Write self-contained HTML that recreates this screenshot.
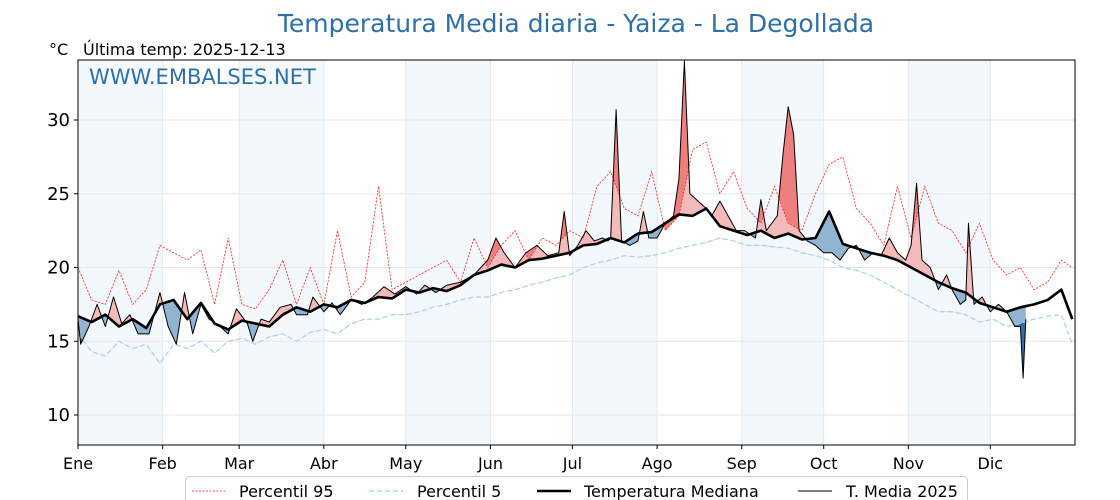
<!DOCTYPE html>
<html><head><meta charset="utf-8"><style>
body{margin:0;background:#fff;}
svg{display:block;font-family:"DejaVu Sans","Liberation Sans",sans-serif;}
</style></head><body>
<svg id="chart" width="1120" height="500" viewBox="0 0 1120 500" xmlns="http://www.w3.org/2000/svg">
<text x="576" y="32" text-anchor="middle" font-size="25" fill="#2f6fa6">Temperatura Media diaria - Yaiza - La Degollada</text>
<text x="49" y="55" font-size="16" fill="#000">°C</text>
<text x="83" y="55" font-size="16" fill="#000">Última temp: 2025-12-13</text>
<g id="plot"></g>
</svg>
<script>
const monthLabels=["Ene","Feb","Mar","Abr","May","Jun","Jul","Ago","Sep","Oct","Nov","Dic"];
const monthStarts=[0,31,59,90,120,151,181,212,243,273,304,334];
const yTicks=[10,15,20,25,30];
const climDays=[0,5,10,15,20,25,30,35,40,45,50,55,60,65,70,75,80,85,90,95,100,105,110,115,120,125,130,135,140,145,150,155,160,165,170,175,180,185,190,195,200,205,210,215,220,225,230,235,240,245,250,255,260,265,270,275,280,285,290,295,300,305,310,315,320,325,330,335,340,345,350,355,360,364];
const median=[16.7,16.3,16.8,16.0,16.5,15.9,17.5,17.8,16.5,17.6,16.2,15.8,16.4,16.2,16.0,16.8,17.3,17.0,17.5,17.3,17.8,17.6,18.0,17.9,18.5,18.3,18.6,18.4,18.8,19.5,19.8,20.2,20.0,20.5,20.6,20.8,21.0,21.5,21.6,22.0,21.7,22.3,22.4,23.0,23.6,23.5,24.0,22.8,22.5,22.2,22.5,22.0,22.3,21.9,22.0,23.8,21.6,21.3,21.0,20.8,20.5,20.0,19.5,19.0,18.6,18.3,17.6,17.3,17.0,17.3,17.5,17.8,18.5,16.5];
const p95=[20,17.8,17.5,19.8,17.5,18.5,21.5,21.0,20.5,21.2,17.5,22.0,17.5,17.2,18.5,20.5,17.5,20.0,17.5,22.5,18.0,19.0,25.5,18.5,19.0,19.5,20.0,20.5,19.0,22.0,20.0,21.5,22.5,20.5,22.0,21.5,22.5,22.0,25.5,26.5,24.0,23.5,26.5,22.5,23.5,28.0,28.5,25.0,26.5,24.0,23.0,25.5,23.0,22.5,25.0,27.0,27.5,24.0,23.0,21.5,25.5,22.0,25.5,23.0,22.5,21.0,23.0,20.5,19.5,20.0,18.5,19.0,20.5,20.0];
const p5=[15.5,14.3,14.0,15.0,14.5,14.8,13.5,14.8,14.5,15.0,14.2,15.0,15.2,14.8,15.3,15.5,15.0,15.6,15.8,15.5,16.2,16.5,16.5,16.8,16.8,17.0,17.3,17.5,17.8,18.0,18.0,18.3,18.5,18.8,19.0,19.3,19.5,20.0,20.3,20.5,20.8,20.7,20.8,21.0,21.3,21.5,21.7,22.0,21.8,21.5,21.5,21.4,21.3,21.0,20.8,20.5,20.0,19.8,19.5,19.0,18.5,18.0,17.5,17.0,17.0,16.8,16.3,16.5,16.0,16.2,16.5,16.7,16.8,14.8];
const days2025=[0,1,4,7,10,13,16,19,22,26,30,33,36,39,42,45,48,52,55,58,62,64,67,70,74,78,80,84,86,90,93,96,100,104,108,112,116,120,124,127,131,135,140,145,150,153,156,160,164,168,172,176,178,180,183,186,189,192,194,195,197,199,202,205,207,209,212,215,218,220,222,224,227,230,232,235,238,241,244,248,250,252,256,258,260,262,264,267,270,273,276,279,282,285,288,291,294,297,300,303,305,307,309,312,315,318,320,323,325,326,328,331,334,337,340,343,345,346,347];
const temp2025=[16.5,14.8,16.0,17.5,16.0,18.0,16.2,16.8,15.5,15.5,18.3,16.0,14.8,18.3,15.5,17.5,16.5,16.0,15.5,17.2,16.2,15.0,16.5,16.3,17.3,17.5,16.8,16.8,18.0,17.0,17.6,16.8,17.8,17.5,18.0,18.7,18.2,18.7,18.2,18.8,18.3,18.8,19.0,19.5,20.5,22.0,21.0,20.0,21.0,21.5,20.8,21.0,23.8,20.8,21.5,22.5,21.8,22.0,21.8,22.0,30.7,21.8,21.5,21.8,23.8,22.0,22.0,23.0,23.5,26.0,34.0,25.0,24.5,24.0,23.5,24.5,23.5,22.5,22.5,22.0,24.6,22.5,23.5,27.5,30.9,29.0,22.5,21.8,21.5,21.0,21.0,20.5,21.3,21.5,20.5,21.0,20.8,22.0,21.0,20.5,21.5,25.7,20.5,20.0,18.5,19.5,18.5,17.5,17.8,23.0,17.5,18.0,17.0,17.5,17.0,16.0,16.0,12.5,16.5];

const NS="http://www.w3.org/2000/svg";
const X0=78,X1=1075,Y0=60,Y1=445;
const xs=d=>X0+d*(X1-X0)/365;
const ys=v=>120+(30-v)*14.75;
const g=document.getElementById('plot');
function mk(tag,attrs,parent){const e=document.createElementNS(NS,tag);for(const k in attrs)e.setAttribute(k,attrs[k]);(parent||g).appendChild(e);return e;}
function interp(dd,vv,d){if(d<=dd[0])return vv[0];for(let i=1;i<dd.length;i++){if(d<=dd[i]){const t=(d-dd[i-1])/(dd[i]-dd[i-1]);return vv[i-1]+t*(vv[i]-vv[i-1]);}}return vv[vv.length-1];}
function linePath(dd,vv){return dd.map((d,i)=>(i?'L':'M')+xs(d).toFixed(2)+','+ys(vv[i]).toFixed(2)).join('');}

for(let m=0;m<12;m+=2){const end=m+1<12?monthStarts[m+1]:365;
const r=mk('rect',{x:xs(monthStarts[m]),y:Y0,width:xs(end)-xs(monthStarts[m]),height:Y1-Y0,fill:'#f3f8fc'});

}
yTicks.forEach(v=>{const l=mk('line',{x1:X0,x2:X1,y1:ys(v),y2:ys(v),stroke:'#e6e6e6','stroke-width':1});

});
monthStarts.forEach(d=>{const l=mk('line',{x1:xs(d),x2:xs(d),y1:Y0,y2:Y1,stroke:'#e3e8ee','stroke-width':1});

});

const defs=mk('defs',{});
function clipFor(id,dd,vv,up){const cp=mk('clipPath',{id:id},defs);
let p=linePath(dd,vv);p+='L'+xs(dd[dd.length-1])+','+(up?0:500)+'L'+xs(dd[0])+','+(up?0:500)+'Z';
mk('path',{d:p},cp);}
clipFor('cAboveM',climDays,median,true);clipFor('cBelowM',climDays,median,false);
clipFor('cAbove95',climDays,p95,true);clipFor('cBelow5',climDays,p5,false);

const grid=[];const lastD=days2025[days2025.length-1];
for(let d=0;d<=lastD+1e-9;d+=0.25)grid.push(d);
const tG=grid.map(d=>interp(days2025,temp2025,d));
function band(refD,refV){const fw=grid.map((d,i)=>(i?'L':'M')+xs(d).toFixed(2)+','+ys(tG[i]).toFixed(2)).join('');
let bw='';for(let i=grid.length-1;i>=0;i--)bw+='L'+xs(grid[i]).toFixed(2)+','+ys(interp(refD,refV,grid[i])).toFixed(2);return fw+bw+'Z';}
const bM=band(climDays,median);
const f1=mk('path',{d:bM,fill:'#f4b9b9','clip-path':'url(#cAboveM)'});


const f2=mk('path',{d:bM,fill:'#92b3d1','clip-path':'url(#cBelowM)'});


const f3=mk('path',{d:band(climDays,p95),fill:'#ef7f7f','clip-path':'url(#cAbove95)'});


const f4=mk('path',{d:band(climDays,p5),fill:'#2f6ea6','clip-path':'url(#cBelow5)'});



const l95=mk('path',{d:linePath(climDays,p95),fill:'none',stroke:'#ff2020','stroke-width':0.8,'stroke-dasharray':'2 1.5'});


const l5=mk('path',{d:linePath(climDays,p5),fill:'none',stroke:'#a8d0e2','stroke-width':1.2,'stroke-dasharray':'5 3'});


const lm=mk('path',{d:linePath(climDays,median),fill:'none',stroke:'#000','stroke-width':2.6,'stroke-linejoin':'round'});


const lt=mk('path',{d:linePath(days2025,temp2025),fill:'none',stroke:'#000','stroke-width':1,'stroke-linejoin':'round'});



const fr=mk('rect',{x:X0,y:Y0,width:X1-X0,height:Y1-Y0,fill:'none',stroke:'#000','stroke-width':1});


const wm=mk('text',{x:89,y:84,'font-size':21,fill:'#2f6fa6'});wm.textContent='WWW.EMBALSES.NET';



yTicks.forEach(v=>{mk('line',{x1:X0-4,x2:X0,y1:ys(v),y2:ys(v),stroke:'#000'});
const t=mk('text',{x:X0-8,y:ys(v)+6,'text-anchor':'end','font-size':18,fill:'#000'});t.textContent=v;

});
monthStarts.forEach((d,i)=>{mk('line',{x1:xs(d),x2:xs(d),y1:Y1,y2:Y1+4,stroke:'#000'});
const t=mk('text',{x:xs(d),y:469,'text-anchor':'middle','font-size':16,fill:'#000'});t.textContent=monthLabels[i];

});

const lg=mk('g',{});


mk('rect',{x:185.5,y:476.5,width:782,height:30,rx:4,fill:'#fff',stroke:'#ccc'},lg);
const entries=[[192,239,'Percentil 95',{stroke:'#ff2020','stroke-width':0.8,'stroke-dasharray':'2 1.5'}],
[369,417,'Percentil 5',{stroke:'#a8d0e2','stroke-width':1.2,'stroke-dasharray':'5 3'}],
[537,584,'Temperatura Mediana',{stroke:'#000','stroke-width':2.5}],
[798,846,'T. Media 2025',{stroke:'#000','stroke-width':1}]];
entries.forEach(e=>{const a=Object.assign({x1:e[0],x2:e[0]+34,y1:491,y2:491},e[3]);mk('line',a,lg);
const t=mk('text',{x:e[1],y:497,'font-size':16,fill:'#000'},lg);t.textContent=e[2];

});
</script>
</body></html>
